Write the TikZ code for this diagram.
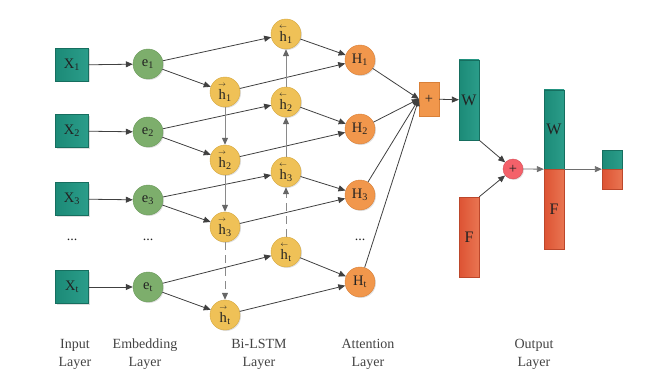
\documentclass[tikz,border=0pt]{standalone}
\usepackage{fontspec}
\usepackage{amsmath}
\setmainfont{Liberation Serif}
\usetikzlibrary{arrows.meta,shadows,positioning}
\definecolor{tealA}{HTML}{1C8A77}
\definecolor{tealB}{HTML}{2B9D8A}
\definecolor{redA}{HTML}{DD5333}
\definecolor{redB}{HTML}{E97552}
\definecolor{greenC}{HTML}{7DAE6C}
\definecolor{greenD}{HTML}{6A9A5A}
\definecolor{yelC}{HTML}{EFC157}
\definecolor{yelD}{HTML}{D6A83E}
\definecolor{orC}{HTML}{F1974C}
\definecolor{orD}{HTML}{D98038}
\definecolor{pinkC}{HTML}{F4616A}
\definecolor{pinkD}{HTML}{D84B55}
\definecolor{lineC}{HTML}{404040}
\definecolor{vC}{HTML}{8A8A8A}
\definecolor{txtC}{HTML}{222222}
\newcommand{\fwdh}[1]{$\overset{\scriptscriptstyle\rightarrow}{\text{h}}_{\text{#1}}$}
\newcommand{\bwdh}[1]{$\overset{\scriptscriptstyle\leftarrow}{\text{h}}_{\text{#1}}$}
\tikzset{
  shad/.style={drop shadow={opacity=0.25,shadow xshift=1pt,shadow yshift=-1pt}},
  nodefont/.style={font=\fontsize{14.5}{16}\selectfont,text=txtC},
  inbox/.style={rectangle,minimum width=33pt,minimum height=33pt,inner sep=0pt,left color=tealA,right color=tealB,draw=tealA!80!black,line width=0.3pt,shad,nodefont},
  embc/.style={circle,minimum size=30pt,inner sep=0pt,fill=greenC,draw=greenD,line width=0.4pt,shad,nodefont},
  lstmc/.style={circle,minimum size=30pt,inner sep=0pt,fill=yelC,draw=yelD,line width=0.4pt,shad,nodefont},
  attc/.style={circle,minimum size=30pt,inner sep=0pt,fill=orC,draw=orD,line width=0.4pt,shad,nodefont},
  tealbar/.style={rectangle,minimum width=20pt,inner sep=0pt,left color=tealA,right color=tealB,draw=tealA!80!black,line width=0.3pt,shad,font=\fontsize{16}{18}\selectfont,text=txtC},
  redbar/.style={rectangle,minimum width=20pt,inner sep=0pt,left color=redA,right color=redB,draw=redA!85!black,line width=0.3pt,shad,font=\fontsize{16}{18}\selectfont,text=txtC},
  arr/.style={draw=lineC,line width=0.8pt,-{Triangle[length=7pt,width=6pt]}},
  varr/.style={draw=vC,line width=1pt,-{Triangle[length=7pt,width=6pt,color=lineC!80]}},
  dsh/.style={dash pattern=on 8pt off 5pt},
  lab/.style={align=center,font=\fontsize{14}{18}\selectfont,text=txtC!85},
  dotsn/.style={font=\fontsize{14}{15}\selectfont,text=txtC}
}
\begin{document}
\begin{tikzpicture}[x=1pt,y=-1pt]
\useasboundingbox (0,0) rectangle (668,385);
% input layer
\node[inbox] (X1) at (72,65) {X\textsubscript{1}};
\node[inbox] (X2) at (72,131) {X\textsubscript{2}};
\node[inbox] (X3) at (72,199) {X\textsubscript{3}};
\node[inbox] (Xt) at (72,287) {X\textsubscript{t}};
\node[dotsn] (d1) at (72,240) {...};
% embedding
\node[embc] (e1) at (148,64) {e\textsubscript{1}};
\node[embc] (e2) at (148,132) {e\textsubscript{2}};
\node[embc] (e3) at (148,200) {e\textsubscript{3}};
\node[embc] (et) at (148,287) {e\textsubscript{t}};
\node[dotsn] (d2) at (148,240) {...};
% bi-lstm
\node[lstmc] (f1) at (225,92) {\fwdh{1}};
\node[lstmc] (f2) at (225,160) {\fwdh{2}};
\node[lstmc] (f3) at (225,227) {\fwdh{3}};
\node[lstmc] (ft) at (225,315) {\fwdh{t}};
\node[lstmc] (b1) at (286,34) {\bwdh{1}};
\node[lstmc] (b2) at (286,102) {\bwdh{2}};
\node[lstmc] (b3) at (286,172) {\bwdh{3}};
\node[lstmc] (bt) at (286,252) {\bwdh{t}};
% attention
\node[attc] (H1) at (360,60) {H\textsubscript{1}};
\node[attc] (H2) at (360,129) {H\textsubscript{2}};
\node[attc] (H3) at (360,195) {H\textsubscript{3}};
\node[attc] (Ht) at (360,282) {H\textsubscript{t}};
\node[dotsn] (d3) at (360,240) {...};
\node[rectangle,minimum width=20pt,minimum height=34pt,inner sep=0pt,fill=orC,draw=orD,line width=0.3pt,shad,nodefont] (P) at (429,99) {+};
% output
\node[tealbar,minimum height=80pt] (W1) at (469,100) {W};
\node[redbar,minimum height=80pt] (F1) at (469,237) {F};
\node[circle,minimum size=20pt,inner sep=0pt,fill=pinkC,draw=pinkD,line width=0.4pt,shad,nodefont] (C) at (513,169) {+};
\node[tealbar,minimum height=79pt] (OW) at (554,129.5) {W};
\node[redbar,minimum height=80pt] (OF) at (554,209) {F};
\node[tealbar,minimum height=19pt] (SW) at (612,159.5) {};
\node[redbar,minimum height=20pt] (SF) at (612,179) {};
% labels
\node[lab] (L1) at (75,354) {Input\\Layer};
\node[lab] (L2) at (145,354) {Embedding\\Layer};
\node[lab] (L3) at (259,354) {Bi-LSTM\\Layer};
\node[lab] (L4) at (368,354) {Attention\\Layer};
\node[lab] (L5) at (534,354) {Output\\Layer};
% connectors: input -> embedding
\draw[arr] (X1) -- (e1);
\draw[arr] (X2) -- (e2);
\draw[arr] (X3) -- (e3);
\draw[arr] (Xt) -- (et);
% embedding -> lstm -> attention -> sum
\foreach \i in {1,2,3,t}{
  \draw[arr] (e\i) -- (f\i);
  \draw[arr] (e\i) -- (b\i);
  \draw[arr] (f\i) -- (H\i);
  \draw[arr] (b\i) -- (H\i);
  \draw[arr] (H\i) -- (P.west);
}
% vertical lstm chains
\draw[varr] (f1) -- (f2);
\draw[varr] (f2) -- (f3);
\draw[varr,dsh] (f3) -- (ft);
\draw[varr,dsh] (bt) -- (b3);
\draw[varr] (b3) -- (b2);
\draw[varr] (b2) -- (b1);
% output part
\draw[arr] (P) -- (W1);
\draw[arr] (W1.south east) -- (C);
\draw[arr] (F1.north east) -- (C);
\draw[arr,draw=vC!80!black] (C) -- (OW.south west);
\draw[arr,draw=vC!80!black] (OW.south east) -- (SW.south west);
\end{tikzpicture}
\end{document}
